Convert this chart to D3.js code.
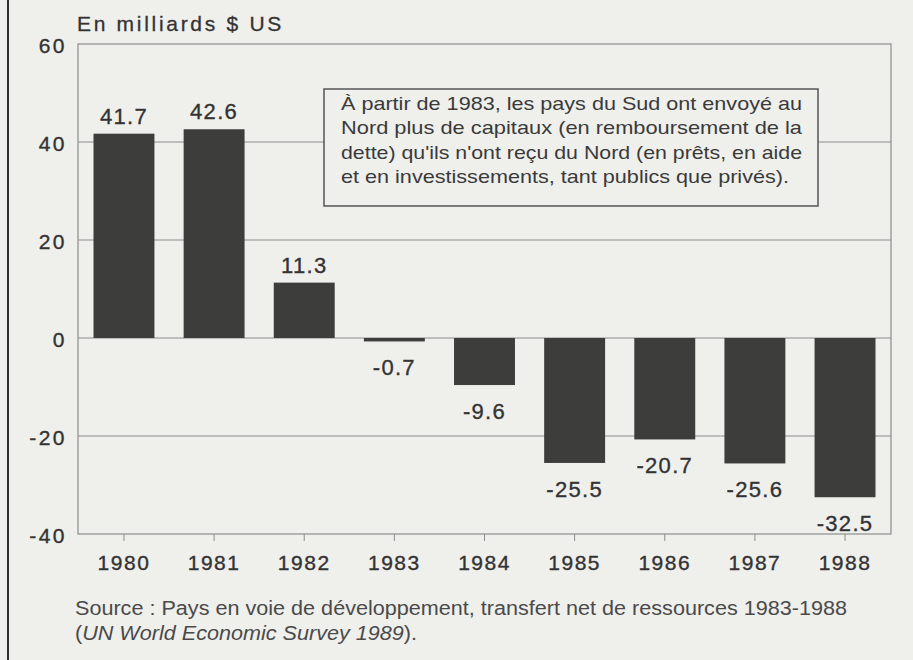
<!DOCTYPE html>
<html>
<head>
<meta charset="utf-8">
<script src="https://cdn.jsdelivr.net/npm/d3@7"></script>
<style>
  html, body { margin: 0; padding: 0; background: #efefec; }
  svg { display: block; font-family: "Liberation Sans", Arial, Helvetica, sans-serif; }
</style>
</head>
<body>
<div id="chart"></div>
<script>
// data
const years = ['1980', '1981', '1982', '1983', '1984', '1985', '1986', '1987', '1988'];
const values = [41.7, 42.6, 11.3, -0.7, -9.6, -25.5, -20.7, -25.6, -32.5];
const yTicks = [60, 40, 20, 0, -20, -40];
const noteLines = [
	'À partir de 1983, les pays du Sud ont envoyé au',
	'Nord plus de capitaux (en remboursement de la',
	'dette) qu\'ils n\'ont reçu du Nord (en prêts, en aide',
	'et en investissements, tant publics que privés).'
];
const unitLabel = 'En milliards $ US';
const sourceLine = 'Source : Pays en voie de développement, transfert net de ressources 1983-1988';
const sourceItalic = 'UN World Economic Survey 1989';

const width = 913, height = 660;
const margin = {top: 44, right: 22, bottom: 126, left: 78};
const ink = '#333';

const svg = d3.select('#chart').append('svg')
	.attr('width', width)
	.attr('height', height);

svg.append('rect')
	.attr('width', width)
	.attr('height', height)
	.attr('fill', '#efefec');

// page border on the left
svg.append('line')
	.attr('x1', 8).attr('x2', 8)
	.attr('y1', 0).attr('y2', height)
	.attr('stroke', '#2e2e2e')
	.attr('stroke-width', 2);

const x = d3.scaleBand()
	.domain(years)
	.range([margin.left, width - margin.right])
	.paddingInner(0.324)
	.paddingOuter(0.172);

const y = d3.scaleLinear()
	.domain([-40, 60])
	.range([height - margin.bottom, margin.top]);

//grid lines
svg.append('g')
	.selectAll('line')
	.data(yTicks.filter(d => d > -40 && d < 60))
	.join('line')
	.attr('x1', margin.left)
	.attr('x2', width - margin.right)
	.attr('y1', d => y(d))
	.attr('y2', d => y(d))
	.attr('stroke', '#8c8c8c')
	.attr('stroke-width', 1);

//frame
svg.append('rect')
	.attr('x', margin.left)
	.attr('y', y(60))
	.attr('width', width - margin.right - margin.left)
	.attr('height', y(-40) - y(60))
	.attr('fill', 'none')
	.attr('stroke', '#8c8c8c')
	.attr('stroke-width', 1.2);

//bars
svg.append('g')
	.selectAll('rect')
	.data(values)
	.join('rect')
	.attr('x', (d, i) => x(years[i]))
	.attr('width', x.bandwidth())
	.attr('y', d => y(Math.max(0, d)))
	.attr('height', d => Math.abs(y(d) - y(0)))
	.attr('fill', '#3d3d3b');

//value labels
svg.append('g')
	.selectAll('text')
	.data(values)
	.join('text')
	.attr('x', (d, i) => x(years[i]) + x.bandwidth() / 2)
	.attr('y', d => d >= 0 ? y(d) - 10 : y(d) + 34)
	.attr('text-anchor', 'middle')
	.attr('font-size', 22)
	.attr('letter-spacing', 1.3)
	.attr('fill', ink)
	.attr('stroke', ink)
	.attr('stroke-width', 0.35)
	.text(d => d.toFixed(1));

//y axis labels
const yAxis = d3.axisLeft(y)
	.tickValues(yTicks)
	.tickFormat(d => String(d))
	.tickSize(0)
	.tickPadding(11);

svg.append('g')
	.attr('transform', `translate(${margin.left},0)`)
	.call(yAxis)
	.call(g => g.select('.domain').remove())
	.selectAll('text')
	.attr('font-size', 21)
	.attr('font-family', null)
	.attr('letter-spacing', 2.5)
	.attr('dy', '0.4em')
	.attr('fill', ink)
	.attr('stroke', ink)
	.attr('stroke-width', 0.35);

//x axis
const xAxis = d3.axisBottom(x)
	.tickSize(7)
	.tickPadding(14);

svg.append('g')
	.attr('transform', `translate(0,${y(-40)})`)
	.call(xAxis)
	.call(g => g.select('.domain').remove())
	.call(g => g.selectAll('line').attr('stroke', '#8c8c8c'))
	.selectAll('text')
	.attr('font-size', 21)
	.attr('font-family', null)
	.attr('letter-spacing', 1.5)
	.attr('fill', ink)
	.attr('stroke', ink)
	.attr('stroke-width', 0.35);

//unit title
svg.append('text')
	.attr('x', 77)
	.attr('y', 31)
	.attr('font-size', 21)
	.attr('letter-spacing', 2.7)
	.attr('fill', ink)
	.attr('stroke', ink)
	.attr('stroke-width', 0.3)
	.text(unitLabel);

//annotation box
const note = svg.append('g');
note.append('rect')
	.attr('x', 324)
	.attr('y', 89)
	.attr('width', 494)
	.attr('height', 117)
	.attr('fill', '#efefec')
	.attr('stroke', '#555')
	.attr('stroke-width', 1.5);

note.selectAll('text')
	.data(noteLines)
	.join('text')
	.attr('x', 341)
	.attr('y', (d, i) => 110 + i * 24.3)
	.attr('font-size', 19)
	.attr('fill', '#3a3a3a')
	.attr('textLength', (d, i) => i < 3 ? 461 : 448)
	.attr('lengthAdjust', 'spacingAndGlyphs')
	.text(d => d);

//source
svg.append('text')
	.attr('x', 75)
	.attr('y', 615)
	.attr('font-size', 19.5)
	.attr('fill', '#4a4a4a')
	.attr('textLength', 772)
	.attr('lengthAdjust', 'spacingAndGlyphs')
	.text(sourceLine);

const src2 = svg.append('text')
	.attr('x', 75)
	.attr('y', 640)
	.attr('font-size', 19.5)
	.attr('fill', '#4a4a4a')
	.attr('textLength', 342)
	.attr('lengthAdjust', 'spacingAndGlyphs');
src2.append('tspan').text('(');
src2.append('tspan').attr('font-style', 'italic').text(sourceItalic);
src2.append('tspan').text(').');
</script>
</body>
</html>
